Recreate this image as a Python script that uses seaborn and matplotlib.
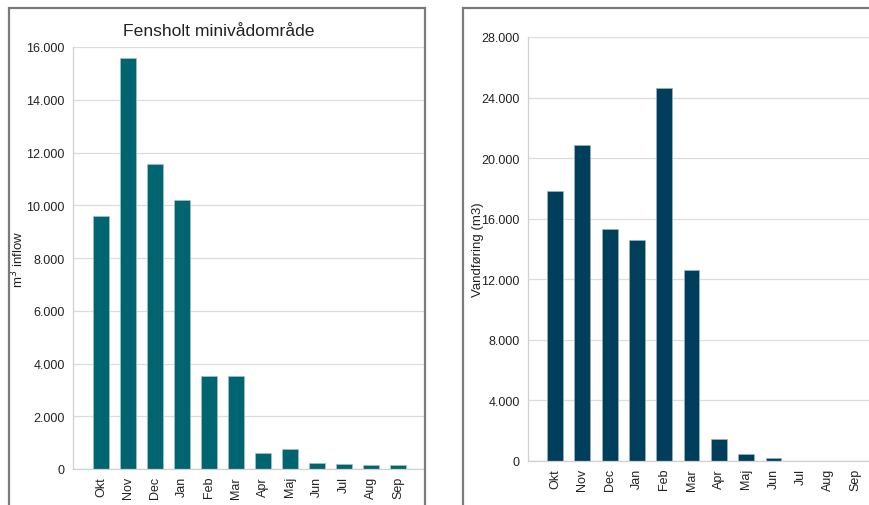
import numpy as np
import pandas as pd
import matplotlib
matplotlib.use("Agg")
import matplotlib.pyplot as plt
import seaborn as sns
from matplotlib.patches import Rectangle
from matplotlib.ticker import MultipleLocator, FuncFormatter

months = ["Okt", "Nov", "Dec", "Jan", "Feb", "Mar", "Apr", "Maj", "Jun", "Jul", "Aug", "Sep"]
inflow_fensholt = [9600, 15600, 11550, 10200, 3520, 3520, 600, 750, 240, 180, 170, 140]
vandforing = [17850, 20900, 15350, 14620, 24600, 12620, 1430, 490, 180, 15, 10, 10]

sns.set_style("white")
plt.rcParams["font.family"] = ["Liberation Sans", "DejaVu Sans"]

W, H = 869, 506
fig = plt.figure(figsize=(W / 100, H / 100), dpi=100)


def px_axes(left, top, right, bottom):
    # pixel box (from top-left) -> figure fraction
    return fig.add_axes([left / W, (H - bottom) / H, (right - left) / W, (bottom - top) / H])


def thousands(v, pos):
    return f"{int(v):,}".replace(",", ".")


def style_axes(ax, top, step):
    ax.set_ylim(0, top)
    ax.yaxis.set_major_locator(MultipleLocator(step))
    ax.yaxis.set_minor_locator(MultipleLocator(step / 2))
    ax.yaxis.set_major_formatter(FuncFormatter(thousands))
    ax.grid(axis="y", which="major", color="#dcdcdc", linewidth=0.9)
    ax.set_axisbelow(True)
    for s in ["top", "right"]:
        ax.spines[s].set_visible(False)
    for s in ["left", "bottom"]:
        ax.spines[s].set_color("#d0d0d0")
        ax.spines[s].set_linewidth(0.9)
    ax.tick_params(axis="y", which="major", length=0, labelsize=9, pad=6, colors="#222222")
    ax.tick_params(axis="y", which="minor", direction="in", length=3, color="#cfcfcf", width=0.8)
    ax.tick_params(axis="x", length=0, labelsize=9, pad=5, colors="#222222", rotation=90)
    ax.set_xlabel("")


# panel frames
fig.add_artist(Rectangle((9 / W, -0.05), (425 - 9) / W, (H - 9) / H + 0.05,
                         transform=fig.transFigure, fill=False, edgecolor="#7a7a7a", linewidth=1.6))
fig.add_artist(Rectangle((463 / W, -0.05), 0.6, (H - 9) / H + 0.05,
                         transform=fig.transFigure, fill=False, edgecolor="#7a7a7a", linewidth=1.6))

# left chart
ax1 = px_axes(73, 48, 425, 470)
df1 = pd.DataFrame({"month": months, "inflow": inflow_fensholt})
sns.barplot(data=df1, x="month", y="inflow", color="#006570", saturation=1,
            width=0.58, edgecolor="#9fc4c8", linewidth=0.5, ax=ax1)
style_axes(ax1, 16000, 2000)
ax1.set_xlim(-1.04, 12.0)
ax1.set_ylabel("m$^3$ inflow", fontsize=9.5, color="#222222")
ax1.yaxis.set_label_coords(-0.133, 0.5)
fig.text(219 / W, 1 - 31 / H, "Fensholt minivådområde", ha="center", va="center",
         fontsize=12.6, color="#222222")

# right chart
ax2 = px_axes(528, 38, 869, 462)
df2 = pd.DataFrame({"month": months, "vand": vandforing})
sns.barplot(data=df2, x="month", y="vand", color="#003F5C", saturation=1,
            width=0.58, edgecolor="#9db3c2", linewidth=0.5, ax=ax2)
style_axes(ax2, 28000, 4000)
ax2.set_xlim(-0.99, 11.5)
ax2.set_ylabel("Vandføring (m3)", fontsize=9.5, color="#222222")
ax2.yaxis.set_label_coords(-0.129, 0.5)

fig.savefig("out.png", dpi=100)
